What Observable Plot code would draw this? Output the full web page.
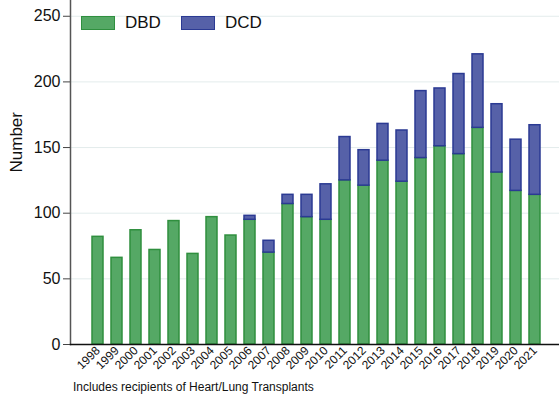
<!DOCTYPE html>
<html>
<head>
<meta charset="utf-8">
<script src="https://cdn.jsdelivr.net/npm/d3@7"></script>
<script src="https://cdn.jsdelivr.net/npm/@observablehq/plot@0.6"></script>
<style>
  body { margin: 0; background: #fff; font-family: "Liberation Sans", Arial, sans-serif; }
  #wrap { position: relative; width: 559px; height: 400px; }
  .legend { position: absolute; top: 13px; display: flex; align-items: center; font-size: 17px; color: #111; }
  .sw { width: 32px; height: 12px; margin-right: 10px; }
  #caption { position: absolute; left: 73px; top: 380px; font-size: 12px; color: #111; }
</style>
</head>
<body>
<div id="wrap">
  <div id="chart"></div>
  <div class="legend" style="left:81px"><div class="sw" style="background:#55a865;border:1.5px solid #2f8f3e"></div>DBD</div>
  <div class="legend" style="left:181px"><div class="sw" style="background:#5661a8;border:1.5px solid #2b3a93"></div>DCD</div>
  <div id="caption">Includes recipients of Heart/Lung Transplants</div>
</div>
<script>
const years = ["1998","1999","2000","2001","2002","2003","2004","2005","2006","2007","2008","2009","2010","2011","2012","2013","2014","2015","2016","2017","2018","2019","2020","2021"];
const dbd = [82,66,87,72,94,69,97,83,95,70,107,97,95,125,121,140,124,142,151,145,165,131,117,114];
const dcd = [0,0,0,0,0,0,0,0,3,9,7,17,27,33,27,28,39,51,44,61,56,52,39,53];
const yTicks = [0,50,100,150,200,250];

const rows = years.map((y, i) => ({year: y, dbd: dbd[i], dcd: dcd[i], total: dbd[i] + dcd[i]}));

const chart = Plot.plot({
  width: 559,
  height: 375,
  marginLeft: 70,
  marginRight: 0,
  marginTop: 0,
  marginBottom: 31,
  style: {fontFamily: "'Liberation Sans', Arial, sans-serif", color: "#111", background: "#fff"},
  x: {domain: years, range: [72.4, 560.4], paddingInner: 0.4, paddingOuter: 0.76},
  y: {domain: [0, 262]},
  marks: [
    Plot.gridY(yTicks, {stroke: "#e3ecec", strokeOpacity: 1, strokeWidth: 1}),
    Plot.axisY(yTicks, {tickSize: 7, tickPadding: 3, fontSize: 16, label: null, stroke: "#444"}),
    Plot.axisX({tickSize: 0, tickRotate: -45, tickPadding: 4, fontSize: 12, label: null}),
    Plot.barY(rows, {x: "year", y1: 0, y2: "dbd", fill: "#55a865", stroke: "#2f8f3e", strokeWidth: 1.5}),
    Plot.barY(rows.filter(d => d.dcd > 0), {x: "year", y1: "dbd", y2: "total", fill: "#5661a8", stroke: "#2b3a93", strokeWidth: 1.5}),
    Plot.frame({anchor: "left", stroke: "#555", strokeWidth: 1.5}),
    Plot.frame({anchor: "bottom", stroke: "#111", strokeWidth: 1.5}),
    Plot.text(["Number"], {frameAnchor: "left", rotate: -90, dx: -54, fontSize: 17, fill: "#111"})
  ]
});
document.getElementById("chart").appendChild(chart);
</script>
</body>
</html>
